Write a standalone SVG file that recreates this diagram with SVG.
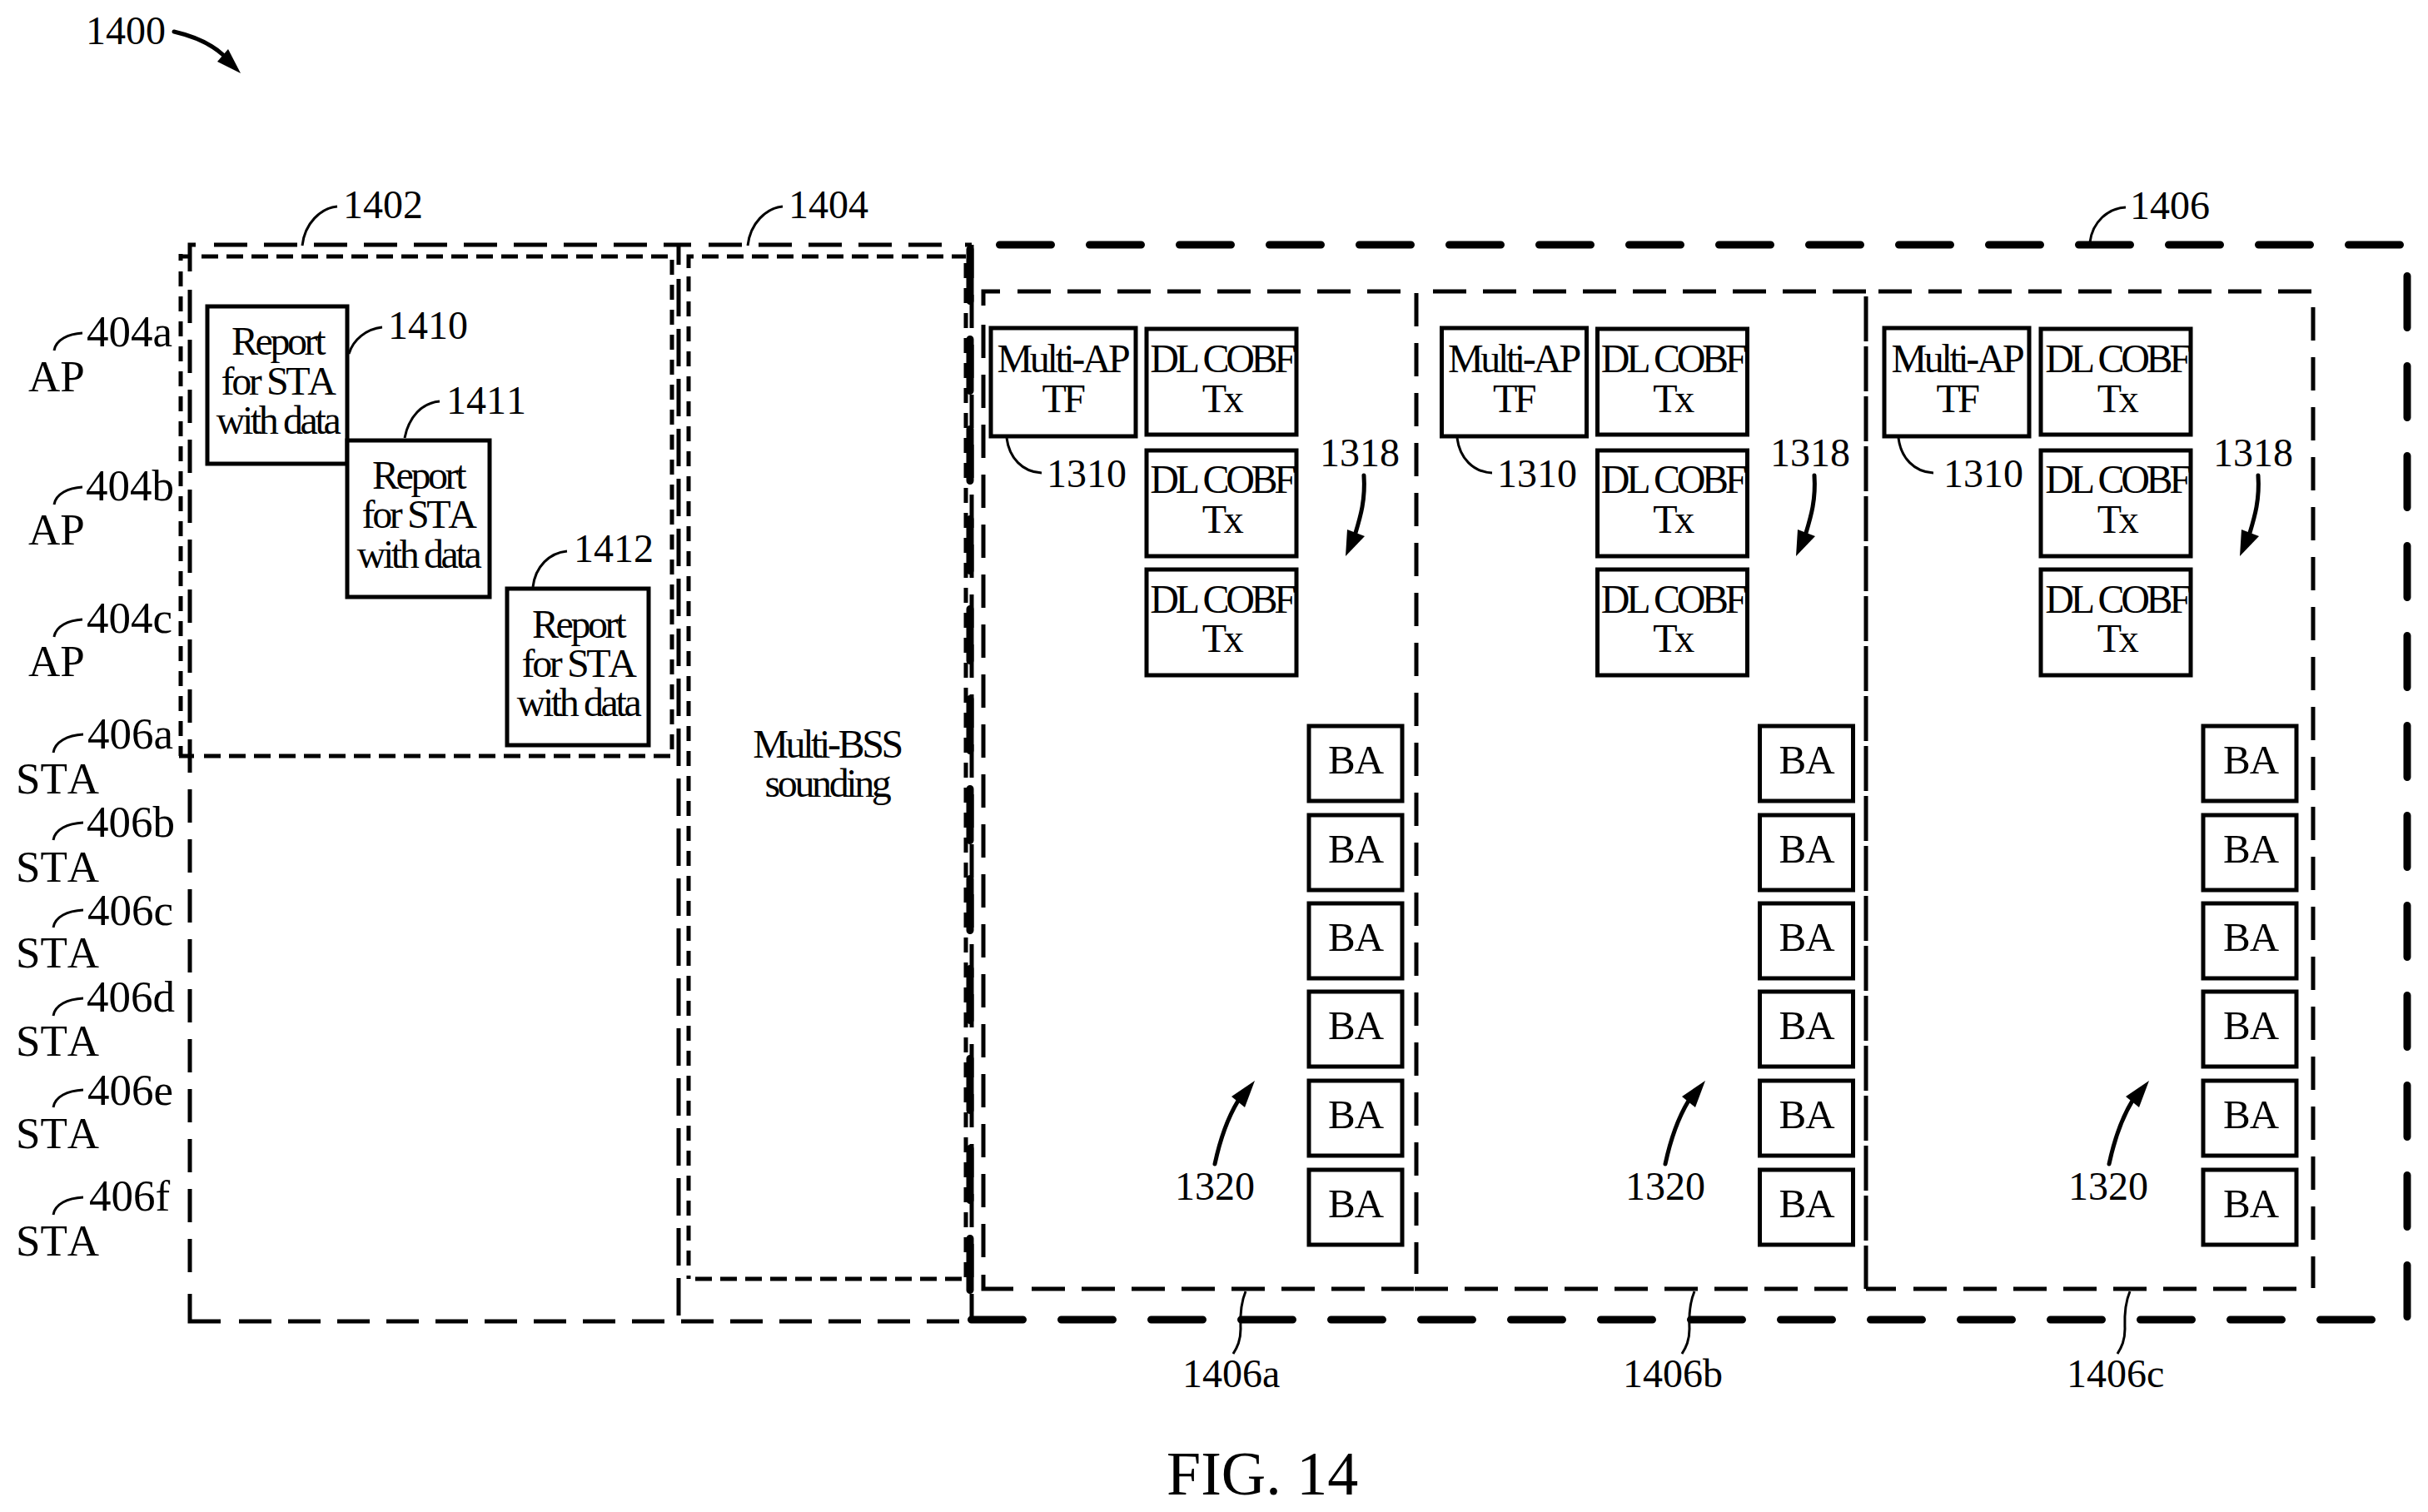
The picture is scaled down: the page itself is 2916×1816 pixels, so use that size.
<svg xmlns="http://www.w3.org/2000/svg" width="2916" height="1816" viewBox="0 0 2916 1816">
<style>
text{font-family:"Liberation Serif","Times New Roman",serif;fill:#000;font-kerning:none}
.l{font-size:48px}
.s{font-size:53px}
.b{font-size:48px;letter-spacing:-3.4px;text-anchor:middle}
.d{font-size:48px;letter-spacing:-4.3px;text-anchor:middle}
.ba{font-size:49px;letter-spacing:-1px;text-anchor:middle}
.fig{font-size:74px}
.box{fill:#fff;stroke:#000;stroke-width:5}
.ld{fill:none;stroke:#000;stroke-width:3}
.arr{fill:none;stroke:#000;stroke-width:5;stroke-linecap:round}
.f0{fill:none;stroke:#000;stroke-width:5}
.f1{fill:none;stroke:#000;stroke-width:5;stroke-dasharray:40 20}
.f1b{fill:none;stroke:#000;stroke-width:5;stroke-dasharray:39 20}
.f1c{fill:none;stroke:#000;stroke-width:5;stroke-dasharray:45 15}
.f1d{fill:none;stroke:#000;stroke-width:5;stroke-dasharray:54 6}
.f2{fill:none;stroke:#000;stroke-width:5;stroke-dasharray:20 10}
.f2v{fill:none;stroke:#000;stroke-width:5;stroke-dasharray:18 12}
.f3{fill:none;stroke:#000;stroke-width:9;stroke-dasharray:62 46;stroke-linecap:round}
</style>
<rect width="2916" height="1816" fill="#fff"/>

<g id="frames">
<g id="frame-1402">
<path class="f0" d="M228,326V294H235"/><path class="f1" d="M257,294H830"/><path class="f1" d="M228,348V1528"/><path class="f0" d="M228,1554V1587H265"/><path class="f1b" d="M287,1587H1153"/><path class="f0" d="M815,294V318"/><path class="f1c" d="M815,335V1587"/>
<path class="f0" d="M215,308H227M217,305V313"/><path class="f2" d="M242,308H807"/><path class="f2v" d="M217,326V908"/><path class="f2v" d="M807,312V908"/><path class="f0" d="M215,908H233"/><path class="f2" d="M245,908H807"/>
</g>
<g id="frame-1404">
<path class="f1" d="M851,294H1131"/><path class="f0" d="M1159,294H1167"/><path class="f1" d="M1167,294V1587"/>
<path class="f0" d="M827,322V308H833"/><path class="f2" d="M843,308H1160"/><path class="f2v" d="M827,332V1536"/><path class="f2v" d="M1160,316V1536"/><path class="f2" d="M835,1536H1160"/>
</g>
<g id="frame-1406"><path class="f3" d="M1200.5,294H2887"/><path class="f3" d="M1166.5,1585H2853"/><path class="f3" d="M1165,299.5V1585"/><path class="f3" d="M2891,331.5V1587"/></g>
<g id="frame-1406a"><path class="f0" d="M1181,367V350H1201"/><path class="f1" d="M1222,350H1682"/><path class="f1" d="M1181,390V1510"/><path class="f0" d="M1181,1531V1548H1217"/><path class="f1" d="M1239,1548H1698"/><path class="f1" d="M1701,352V1530"/></g>
<g id="frame-1406b"><path class="f1" d="M1721,350H2241"/><path class="f1" d="M1699,1548H2219"/><path class="f1d" d="M2241,356V1548"/></g>
<g id="frame-1406c"><path class="f1" d="M2256,350H2776"/><path class="f0" d="M2241,1548H2277"/><path class="f1" d="M2298,1548H2758"/><path class="f1" d="M2778,369V1547"/></g>
</g>

<g id="connectors">
<path class="arr" d="M209,38C235,44 255,54 268,66"/><path d="M289,88L261,74L274,59Z"/>
<path class="ld" d="M363,295C366,268 385,250 405,248"/>
<path class="ld" d="M898,295C901,268 920,250 940,248"/>
<path class="ld" d="M2510,291C2513,266 2532,250 2553,249"/>
<path class="ld" d="M419,425C424,408 440,395 459,393"/>
<path class="ld" d="M486,526C491,500 507,484 528,482"/>
<path class="ld" d="M640,705C643,680 660,664 681,662"/>
<path class="ld" d="M65,421C67,408 82,401 99,400"/>
<path class="ld" d="M65,606C67,593 82,586 99,585"/>
<path class="ld" d="M65,765C67,752 82,745 99,744"/>
<path class="ld" d="M64,904C66,891 81,883 100,882"/>
<path class="ld" d="M64,1009C66,996 81,989 100,988"/>
<path class="ld" d="M64,1114C66,1101 81,1094 100,1093"/>
<path class="ld" d="M64,1220C66,1207 81,1200 100,1199"/>
<path class="ld" d="M64,1330C66,1317 81,1310 100,1309"/>
<path class="ld" d="M64,1459C66,1446 81,1439 100,1438"/>
<path class="ld" d="M1209,526C1212,550 1228,567 1251,568"/>
<path class="ld" d="M1750,526C1753,550 1769,567 1792,568"/>
<path class="ld" d="M2280,526C2283,550 2299,567 2322,568"/>
<path class="arr" d="M1638,571C1640,600 1634,620 1628,640"/><path d="M1616,668L1618,636L1639,644Z"/>
<path class="arr" d="M2179,571C2181,600 2175,620 2169,640"/><path d="M2157,668L2159,636L2180,644Z"/>
<path class="arr" d="M2712,571C2714,600 2708,620 2702,640"/><path d="M2690,668L2692,636L2713,644Z"/>
<path class="arr" d="M1459,1398C1465,1370 1473,1345 1487,1322"/><path d="M1507,1298L1479,1317L1495,1330Z"/>
<path class="arr" d="M2000,1398C2006,1370 2014,1345 2028,1322"/><path d="M2048,1298L2020,1317L2036,1330Z"/>
<path class="arr" d="M2533,1398C2539,1370 2547,1345 2561,1322"/><path d="M2581,1298L2553,1317L2569,1330Z"/>
<path class="ld" d="M1496,1551C1488,1570 1490,1590 1490,1596C1490,1610 1486,1618 1481,1626"/>
<path class="ld" d="M2035,1551C2027,1570 2029,1590 2029,1596C2029,1610 2025,1618 2020,1626"/>
<path class="ld" d="M2558,1551C2550,1570 2552,1590 2552,1596C2552,1610 2548,1618 2543,1626"/>
</g>

<g id="labels">
<text class="l" x="103" y="53">1400</text>
<text class="l" x="412" y="262">1402</text>
<text class="l" x="947" y="262">1404</text>
<text class="l" x="2558" y="263">1406</text>
<text class="l" x="466" y="407">1410</text>
<text class="l" x="536" y="497">1411</text>
<text class="l" x="689" y="675">1412</text>
<text class="s" x="34" y="470">AP</text><text class="s" x="104" y="416">404a</text>
<text class="s" x="34" y="654">AP</text><text class="s" x="103" y="601">404b</text>
<text class="s" x="34" y="812">AP</text><text class="s" x="104" y="760">404c</text>
<text class="s" x="19" y="953">STA</text><text class="s" x="105" y="899">406a</text>
<text class="s" x="19" y="1059">STA</text><text class="s" x="104" y="1005">406b</text>
<text class="s" x="19" y="1162">STA</text><text class="s" x="105" y="1111">406c</text>
<text class="s" x="19" y="1268">STA</text><text class="s" x="104" y="1215">406d</text>
<text class="s" x="19" y="1379">STA</text><text class="s" x="105" y="1327">406e</text>
<text class="s" x="19" y="1508">STA</text><text class="s" x="107" y="1454">406f</text>
<text class="l" x="1257" y="585">1310</text>
<text class="l" x="1798" y="585">1310</text>
<text class="l" x="2334" y="585">1310</text>
<text class="l" x="1585" y="560">1318</text>
<text class="l" x="2126" y="560">1318</text>
<text class="l" x="2658" y="560">1318</text>
<text class="l" x="1411" y="1441">1320</text>
<text class="l" x="1952" y="1441">1320</text>
<text class="l" x="2484" y="1441">1320</text>
<text class="l" x="1420" y="1666">1406a</text>
<text class="l" x="1949" y="1666">1406b</text>
<text class="l" x="2482" y="1666">1406c</text>
<text class="fig" x="1401" y="1795">FIG. 14</text>
</g>

<g id="node-1410"><rect class="box" x="249" y="368" width="168" height="189"/><text class="b" x="333" y="426">Report</text><text class="b" x="333" y="474">for STA</text><text class="b" x="333" y="521">with data</text></g>
<g id="node-1411"><rect class="box" x="417" y="529" width="171" height="188"/><text class="b" x="502" y="587">Report</text><text class="b" x="502" y="634">for STA</text><text class="b" x="502" y="682">with data</text></g>
<g id="node-1412"><rect class="box" x="609" y="707" width="170" height="188"/><text class="b" x="694" y="766">Report</text><text class="b" x="694" y="813">for STA</text><text class="b" x="694" y="860">with data</text></g>
<g id="node-sounding"><text class="b" x="993" y="910">Multi-BSS</text><text class="b" x="993" y="957">sounding</text></g>

<g id="column-a">
<g id="a-tf"><rect class="box" x="1190" y="394" width="174" height="130"/><text class="b" x="1276" y="447">Multi-AP</text><text class="b" x="1276" y="495">TF</text></g>
<g id="a-cobf1"><rect class="box" x="1377" y="395" width="180" height="127"/><text class="d" x="1467" y="447">DL COBF</text><text class="b" x="1467" y="495">Tx</text></g>
<g id="a-cobf2"><rect class="box" x="1377" y="541" width="180" height="127"/><text class="d" x="1467" y="592">DL COBF</text><text class="b" x="1467" y="640">Tx</text></g>
<g id="a-cobf3"><rect class="box" x="1377" y="684" width="180" height="127"/><text class="d" x="1467" y="736">DL COBF</text><text class="b" x="1467" y="783">Tx</text></g>
<g id="a-ba1"><rect class="box" x="1572" y="872" width="112" height="90"/><text class="ba" x="1628" y="929">BA</text></g>
<g id="a-ba2"><rect class="box" x="1572" y="979" width="112" height="90"/><text class="ba" x="1628" y="1036">BA</text></g>
<g id="a-ba3"><rect class="box" x="1572" y="1085" width="112" height="90"/><text class="ba" x="1628" y="1142">BA</text></g>
<g id="a-ba4"><rect class="box" x="1572" y="1191" width="112" height="90"/><text class="ba" x="1628" y="1248">BA</text></g>
<g id="a-ba5"><rect class="box" x="1572" y="1298" width="112" height="90"/><text class="ba" x="1628" y="1355">BA</text></g>
<g id="a-ba6"><rect class="box" x="1572" y="1405" width="112" height="90"/><text class="ba" x="1628" y="1462">BA</text></g>
</g>
<g id="column-b" transform="translate(541.5 0)">
<g id="b-tf"><rect class="box" x="1190" y="394" width="174" height="130"/><text class="b" x="1276" y="447">Multi-AP</text><text class="b" x="1276" y="495">TF</text></g>
<g id="b-cobf1"><rect class="box" x="1377" y="395" width="180" height="127"/><text class="d" x="1467" y="447">DL COBF</text><text class="b" x="1467" y="495">Tx</text></g>
<g id="b-cobf2"><rect class="box" x="1377" y="541" width="180" height="127"/><text class="d" x="1467" y="592">DL COBF</text><text class="b" x="1467" y="640">Tx</text></g>
<g id="b-cobf3"><rect class="box" x="1377" y="684" width="180" height="127"/><text class="d" x="1467" y="736">DL COBF</text><text class="b" x="1467" y="783">Tx</text></g>
<g id="b-ba1"><rect class="box" x="1572" y="872" width="112" height="90"/><text class="ba" x="1628" y="929">BA</text></g>
<g id="b-ba2"><rect class="box" x="1572" y="979" width="112" height="90"/><text class="ba" x="1628" y="1036">BA</text></g>
<g id="b-ba3"><rect class="box" x="1572" y="1085" width="112" height="90"/><text class="ba" x="1628" y="1142">BA</text></g>
<g id="b-ba4"><rect class="box" x="1572" y="1191" width="112" height="90"/><text class="ba" x="1628" y="1248">BA</text></g>
<g id="b-ba5"><rect class="box" x="1572" y="1298" width="112" height="90"/><text class="ba" x="1628" y="1355">BA</text></g>
<g id="b-ba6"><rect class="box" x="1572" y="1405" width="112" height="90"/><text class="ba" x="1628" y="1462">BA</text></g>
</g>
<g id="column-c" transform="translate(1074 0)">
<g id="c-tf"><rect class="box" x="1189" y="394" width="174" height="130"/><text class="b" x="1276" y="447">Multi-AP</text><text class="b" x="1276" y="495">TF</text></g>
<g id="c-cobf1"><rect class="box" x="1377" y="395" width="180" height="127"/><text class="d" x="1468" y="447">DL COBF</text><text class="b" x="1468" y="495">Tx</text></g>
<g id="c-cobf2"><rect class="box" x="1377" y="541" width="180" height="127"/><text class="d" x="1468" y="592">DL COBF</text><text class="b" x="1468" y="640">Tx</text></g>
<g id="c-cobf3"><rect class="box" x="1377" y="684" width="180" height="127"/><text class="d" x="1468" y="736">DL COBF</text><text class="b" x="1468" y="783">Tx</text></g>
<g id="c-ba1"><rect class="box" x="1572" y="872" width="112" height="90"/><text class="ba" x="1629" y="929">BA</text></g>
<g id="c-ba2"><rect class="box" x="1572" y="979" width="112" height="90"/><text class="ba" x="1629" y="1036">BA</text></g>
<g id="c-ba3"><rect class="box" x="1572" y="1085" width="112" height="90"/><text class="ba" x="1629" y="1142">BA</text></g>
<g id="c-ba4"><rect class="box" x="1572" y="1191" width="112" height="90"/><text class="ba" x="1629" y="1248">BA</text></g>
<g id="c-ba5"><rect class="box" x="1572" y="1298" width="112" height="90"/><text class="ba" x="1629" y="1355">BA</text></g>
<g id="c-ba6"><rect class="box" x="1572" y="1405" width="112" height="90"/><text class="ba" x="1629" y="1462">BA</text></g>
</g>
</svg>
